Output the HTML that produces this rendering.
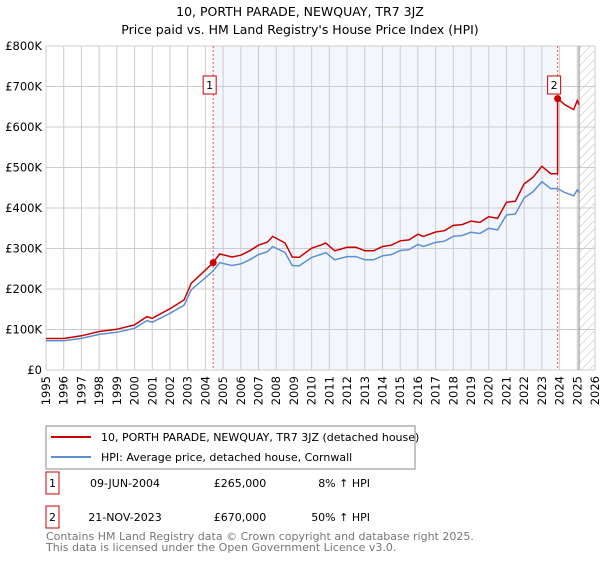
<!DOCTYPE html>
<html><head><meta charset="utf-8"><style>
body{margin:0;background:#fff;font-family:"DejaVu Sans","Liberation Sans",sans-serif;}
svg text{font-family:"DejaVu Sans","Liberation Sans",sans-serif;}
</style></head><body>
<svg id="c" width="600" height="560" xmlns="http://www.w3.org/2000/svg">
<defs><pattern id="hatch" width="6" height="6" patternUnits="userSpaceOnUse" patternTransform="rotate(45)"><line x1="0" y1="0" x2="0" y2="6" stroke="#bbb" stroke-width="1"/></pattern></defs>
<text x="300" y="16" text-anchor="middle" font-size="12.5">10, PORTH PARADE, NEWQUAY, TR7 3JZ</text>
<text x="300" y="34" text-anchor="middle" font-size="12.5">Price paid vs. HM Land Registry's House Price Index (HPI)</text>
<g id="plot"></g>
<rect x="46" y="426" width="369" height="43" fill="#fff" stroke="#888"/>
<line x1="51" y1="437" x2="91" y2="437" stroke="#cc0000" stroke-width="2"/>
<text x="101" y="441" font-size="11">10, PORTH PARADE, NEWQUAY, TR7 3JZ (detached house)</text>
<line x1="51" y1="457" x2="91" y2="457" stroke="#5b8fd4" stroke-width="2"/>
<text x="101" y="461" font-size="11">HPI: Average price, detached house, Cornwall</text>
<g font-size="11">
<rect x="46" y="472" width="13" height="22" fill="#fff" stroke="#cc0000"/>
<text x="52.5" y="487" text-anchor="middle">1</text>
<text x="125" y="487" text-anchor="middle">09-JUN-2004</text>
<text x="240" y="487" text-anchor="middle">£265,000</text>
<text x="370" y="487" text-anchor="end">8% ↑ HPI</text>
<rect x="46" y="506" width="13" height="22" fill="#fff" stroke="#cc0000"/>
<text x="52.5" y="521" text-anchor="middle">2</text>
<text x="125" y="521" text-anchor="middle">21-NOV-2023</text>
<text x="240" y="521" text-anchor="middle">£670,000</text>
<text x="370" y="521" text-anchor="end">50% ↑ HPI</text>
</g>
<text x="46" y="540" font-size="11" fill="#777">Contains HM Land Registry data © Crown copyright and database right 2025.</text>
<text x="46" y="551" font-size="11" fill="#777">This data is licensed under the Open Government Licence v3.0.</text>
</svg>
<script>
const hpiYears=[1995,1996,1997,1998,1999,2000,2000.7,2001,2002,2002.8,2003.2,2004,2004.44,2004.8,2005.5,2006,2006.5,2007,2007.5,2007.8,2008.5,2008.9,2009.3,2010,2010.5,2010.8,2011.3,2012,2012.5,2013,2013.5,2014,2014.5,2015,2015.5,2016,2016.3,2017,2017.5,2018,2018.5,2019,2019.5,2020,2020.5,2021,2021.5,2022,2022.5,2023,2023.5,2023.89,2024.3,2024.8,2025,2025.1];
const hpiValues=[72,72,78,88,93,103,122,118,140,160,198,228,245,265,258,262,272,285,292,305,290,258,257,278,285,290,272,280,280,272,272,282,285,295,297,310,305,315,318,330,332,340,337,350,346,383,385,425,440,465,448,448,438,430,445,438];
const saleYears=[2004.44,2023.89];
const salePrices=[265,670];
const saleLabels=["1","2"];
const yTicks=[0,100,200,300,400,500,600,700,800];
const xTicks=[1995,1996,1997,1998,1999,2000,2001,2002,2003,2004,2005,2006,2007,2008,2009,2010,2011,2012,2013,2014,2015,2016,2017,2018,2019,2020,2021,2022,2023,2024,2025,2026];
const L=46,R=595,T=46,B=370,X0=1995,X1=2026,DATA_END=2025.1;
const xs=v=>L+(v-X0)/(X1-X0)*(R-L);
const ys=v=>B-v/800*(B-T);
const NS="http://www.w3.org/2000/svg";
const g=document.getElementById('plot');
function mk(t,a){const e=document.createElementNS(NS,t);for(const k in a)e.setAttribute(k,a[k]);g.appendChild(e);return e;}
const bg=mk('rect',{x:L,y:T,width:R-L,height:B-T,fill:'#fff'});


const sh=mk('rect',{x:xs(saleYears[0]),y:T,width:xs(saleYears[1])-xs(saleYears[0]),height:B-T,fill:'#eef3fc',opacity:0.7});


const ht=mk('rect',{x:xs(DATA_END),y:T,width:R-xs(DATA_END),height:B-T,fill:'url(#hatch)'});


xTicks.forEach(t=>{
 const l=mk('line',{x1:xs(t),x2:xs(t),y1:T,y2:B,stroke:'#ccc','stroke-width':1});
 
 
 const tx=mk('text',{x:0,y:0,'font-size':11.5,'text-anchor':'end',transform:`translate(${xs(t)+4},${B+6}) rotate(-90)`});
 tx.textContent=t;
 
 
});
yTicks.forEach(t=>{
 const l=mk('line',{x1:L,x2:R,y1:ys(t),y2:ys(t),stroke:'#ccc','stroke-width':1});
 
 
 const tx=mk('text',{x:L-4,y:ys(t)+4,'font-size':11.5,'text-anchor':'end'});
 tx.textContent=t===0?'£0':'£'+t+'K';
 
 
});
const de=mk('line',{x1:xs(DATA_END),x2:xs(DATA_END),y1:T,y2:B,stroke:'#888','stroke-width':1});


saleYears.forEach((y,i)=>{
 const l=mk('line',{x1:xs(y),x2:xs(y),y1:T,y2:B,stroke:'#e05050','stroke-width':1,'stroke-dasharray':'2,2'});
 
 
});
const hp=hpiYears.map((y,i)=>xs(y).toFixed(1)+','+ys(hpiValues[i]).toFixed(1)).join(' ');
const hl=mk('polyline',{points:hp,fill:'none',stroke:'#5b8fd4','stroke-width':1.5});


const pts=[];
hpiYears.forEach((y,i)=>{
 let k=y<saleYears[1]?0:1;
 const base=hpiValues[hpiYears.indexOf(saleYears[k])]||hpiValues[i];
 const r=salePrices[k]/base;
 if(k===1&&pts.length&&y===saleYears[1]){
  const prev=hpiValues[i]*salePrices[0]/hpiValues[hpiYears.indexOf(saleYears[0])];
  pts.push(xs(y).toFixed(1)+','+ys(prev).toFixed(1));
 }
 pts.push(xs(y).toFixed(1)+','+ys(hpiValues[i]*r).toFixed(1));
});
const pl=mk('polyline',{points:pts.join(' '),fill:'none',stroke:'#cc0000','stroke-width':1.5});


saleYears.forEach((y,i)=>{
 const c=mk('circle',{cx:xs(y),cy:ys(salePrices[i]),r:3.5,fill:'#cc0000'});
 
 
 const b=mk('rect',{x:xs(y)-10,y:76,width:13,height:18,fill:'#fff',stroke:'#cc0000'});
 
 
 const t=mk('text',{x:xs(y)-3.5,y:89,'font-size':11,'text-anchor':'middle'});
 t.textContent=saleLabels[i];
 
 
});
</script>
</body></html>
